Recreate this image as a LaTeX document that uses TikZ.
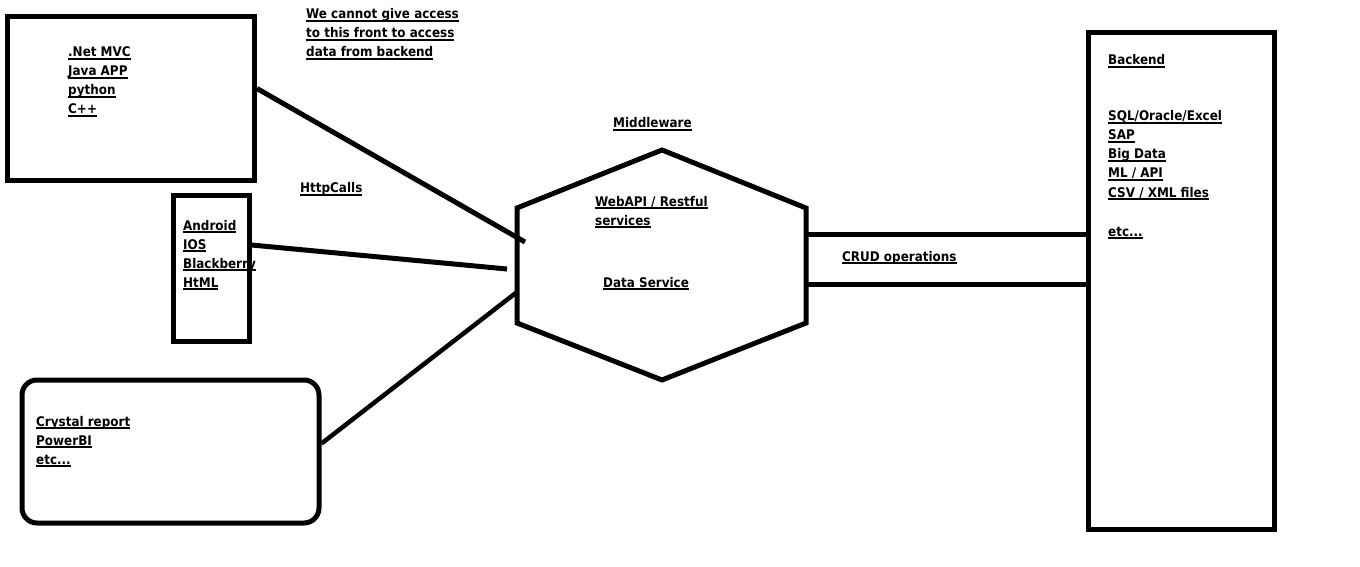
\documentclass[tikz,border=0pt]{standalone}
\usepackage{fontspec}
\setmainfont{DejaVu Sans Condensed}
\usetikzlibrary{calc,positioning}

\newcommand{\ulbl}[1]{\setbox0\hbox{#1}\rlap{\rule[-2.8pt]{\wd0}{1.5pt}}\box0}

\tikzset{
    box/.style={draw, line width=5pt, inner sep=0pt},
    lbl/.style={anchor=base west, inner sep=0pt, font=\fontsize{13.3}{19}\selectfont\bfseries},
    link/.style={line width=5pt}
}

\begin{document}
\begin{tikzpicture}[x=1pt, y=-1pt]
\useasboundingbox (0,0) rectangle (1360,567);

% client boxes
\node[box, minimum width=247pt, minimum height=164pt] (desk) at (131,98.5) {};
\node[box, minimum width=76pt, minimum height=146pt] (mobile) at (211,268) {};
\node[box, rounded corners=15pt, minimum width=297pt, minimum height=143pt] (report) at (170.5,451.5) {};
\node[box, minimum width=186.5pt, minimum height=496pt] (backend) at (1181.25,281) {};

% middleware hexagon
\coordinate (h1) at (662,150);
\coordinate (h2) at (806,208);
\coordinate (h3) at (806,323);
\coordinate (h4) at (662,380);
\coordinate (h5) at (517,323);
\coordinate (h6) at (517,208);
\draw[line width=5pt] (h1) -- (h2) -- (h3) -- (h4) -- (h5) -- (h6) -- cycle;
\node (mid) at (662,265) {};

% labels
\foreach \t [count=\i] in {.Net MVC, Java APP, python, C++}
    \node[lbl] (desk\i) at (68,38+19*\i) {\ulbl{\t}};
\foreach \t [count=\i] in {Android, IOS, Blackberry, HtML}
    \node[lbl] (mobile\i) at (183,211+19*\i) {\ulbl{\t}};
\foreach \t [count=\i] in {Crystal report, PowerBI}
    \node[lbl] (report\i) at (36,407+19*\i) {\ulbl{\t}};
\node[lbl] (report3) at (36,464) {\ulbl{etc...}};
\foreach \t [count=\i] in {We cannot give access, to this front to access, data from backend}
    \node[lbl] (note\i) at (306,0+19*\i) {\ulbl{\t}};
\foreach \t [count=\i] in {SQL/Oracle/Excel, SAP, Big Data, ML / API, CSV / XML files}
    \node[lbl] (store\i) at (1108,102+19*\i) {\ulbl{\t}};
\node[lbl] (backtitle) at (1108,65) {\ulbl{Backend}};
\node[lbl] (store6) at (1108,236) {\ulbl{etc...}};
\node[lbl] (http) at (300,193) {\ulbl{HttpCalls}};
\node[lbl] (midtitle) at (613,128) {\ulbl{Middleware}};
\node[lbl] (api1) at (595,206) {\ulbl{WebAPI / Restful}};
\node[lbl] (api2) at (595,225) {\ulbl{services}};
\node[lbl] (data) at (603,287) {\ulbl{Data Service}};
\node[lbl] (crud) at (842,261) {\ulbl{CRUD operations}};

% connectors
\coordinate (inA) at (525,242);
\coordinate (inB) at (507,269);
\coordinate (inC) at (517,292);
\coordinate (crudA) at (806,234);
\coordinate (crudB) at (806,284);
\draw[link] ([yshift=10pt]desk.east) -- (inA);
\draw[link] ([yshift=23pt]mobile.east) -- (inB);
\draw[link, line width=4.5pt] ([yshift=8pt]report.east) -- (inC);
\draw[link] (crudA) -- (crudA -| backend.west);
\draw[link] (crudB) -- (crudB -| backend.west);
\end{tikzpicture}
\end{document}
